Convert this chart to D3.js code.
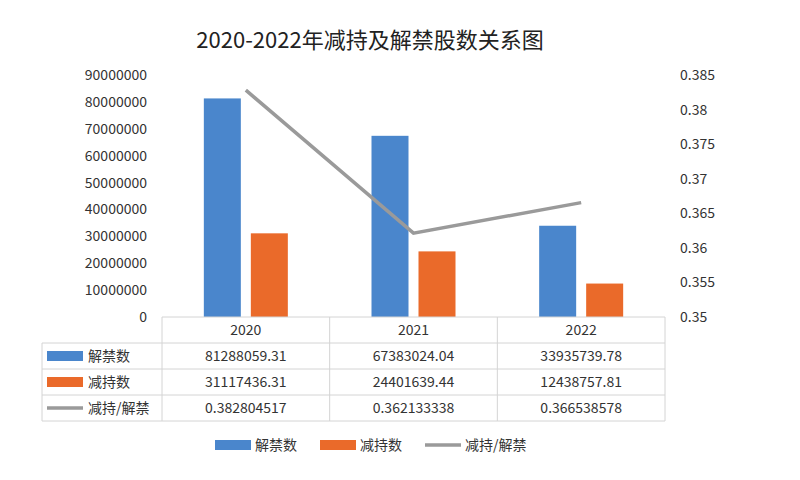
<html lang="en">
<head>
  <meta charset="utf-8">
  <title>2020-2022年减持及解禁股数关系图</title>
  <script src="https://cdn.jsdelivr.net/npm/d3@7/dist/d3.min.js"></script>
  <style>
    body { margin: 0; background: #fff; }
    text { font-family: "Noto Sans CJK SC", "Noto Sans", sans-serif; }
  </style>
</head>
<body>
<svg id="chart" width="800" height="480"></svg>
<script>
var years = ["2020", "2021", "2022"];
var unlocked = [81288059.31, 67383024.04, 33935739.78];
var reduced = [31117436.31, 24401639.44, 12438757.81];
var ratio = [0.382804517, 0.362133338, 0.366538578];
var unlockedLabels = ["81288059.31", "67383024.04", "33935739.78"];
var reducedLabels = ["31117436.31", "24401639.44", "12438757.81"];
var ratioLabels = ["0.382804517", "0.362133338", "0.366538578"];
var leftTicks = [0, 10000000, 20000000, 30000000, 40000000, 50000000, 60000000, 70000000, 80000000, 90000000];
var rightTicks = [0.35, 0.355, 0.36, 0.365, 0.37, 0.375, 0.38, 0.385];

var blue = "#4a86cc", orange = "#ea6a2a", grey = "#9a9a9a", lineCol = "#d4d4d4";
var svg = d3.select("#chart");
var plotL = 162, plotR = 665, plotT = 75, plotB = 317;

svg.append("text").attr("x", 370).attr("y", 48).attr("text-anchor", "middle")
  .attr("font-size", 22).attr("fill", "#222").text("2020-2022年减持及解禁股数关系图");

var x = d3.scaleBand().domain(years).range([plotL, plotR]);
var yL = d3.scaleLinear().domain([0, 90000000]).range([plotB, plotT]);
var yR = d3.scaleLinear().domain([0.35, 0.385]).range([plotB, plotT]);

// axes
var axL = svg.append("g").attr("transform", "translate(" + (plotL - 12) + ",0)")
  .call(d3.axisLeft(yL).tickValues(leftTicks).tickSize(0).tickFormat(d3.format("d")));
var axR = svg.append("g").attr("transform", "translate(" + (plotR + 12) + ",0)")
  .call(d3.axisRight(yR).tickValues(rightTicks).tickSize(0).tickFormat(function(d){ return +d.toFixed(3) + ""; }));
[axL, axR].forEach(function(a){
  a.select(".domain").remove();
  a.selectAll("text").attr("font-size", 14).attr("fill", "#333").attr("font-family", "'Noto Sans CJK SC', sans-serif");
});

// bars
var bw = 37;
svg.selectAll(".b1").data(years).enter().append("rect")
  .attr("x", function(d){ return x(d) + x.bandwidth()/2 - 42; })
  .attr("y", function(d, i){ return yL(unlocked[i]); })
  .attr("width", bw).attr("height", function(d, i){ return plotB - yL(unlocked[i]); })
  .attr("fill", blue);
svg.selectAll(".b2").data(years).enter().append("rect")
  .attr("x", function(d){ return x(d) + x.bandwidth()/2 + 5; })
  .attr("y", function(d, i){ return yL(reduced[i]); })
  .attr("width", bw).attr("height", function(d, i){ return plotB - yL(reduced[i]); })
  .attr("fill", orange);

// line
var line = d3.line()
  .x(function(d, i){ return x(years[i]) + x.bandwidth()/2; })
  .y(function(d){ return yR(d); });
svg.append("path").datum(ratio).attr("d", line)
  .attr("fill", "none").attr("stroke", grey).attr("stroke-width", 3.5);

// data table
var rowH = 26, tl = 42;
var rows = [
  { name: "解禁数", vals: unlockedLabels, key: "bar", color: blue },
  { name: "减持数", vals: reducedLabels, key: "bar", color: orange },
  { name: "减持/解禁", vals: ratioLabels, key: "line", color: grey }
];
var tg = svg.append("g");
var tableBottom = plotB + rowH * 4;
for (var r = 0; r <= 4; r++) {
  var yy = plotB + rowH * r;
  tg.append("line").attr("x1", r === 0 ? plotL : tl).attr("x2", plotR)
    .attr("y1", yy).attr("y2", yy).attr("stroke", lineCol);
}
tg.append("line").attr("x1", tl).attr("x2", tl).attr("y1", plotB + rowH).attr("y2", tableBottom).attr("stroke", lineCol);
[plotL].concat(years.map(function(d){ return x(d) + x.bandwidth(); })).forEach(function(xx){
  tg.append("line").attr("x1", xx).attr("x2", xx).attr("y1", plotB).attr("y2", tableBottom).attr("stroke", lineCol);
});
years.forEach(function(d){
  tg.append("text").attr("x", x(d) + x.bandwidth()/2).attr("y", plotB + 18)
    .attr("text-anchor", "middle").attr("font-size", 14).attr("fill", "#333").text(d);
});
rows.forEach(function(row, ri){
  var cy = plotB + rowH * (ri + 1) + rowH/2;
  if (row.key === "bar") {
    tg.append("rect").attr("x", 47).attr("y", cy - 5).attr("width", 36).attr("height", 10).attr("fill", row.color);
  } else {
    tg.append("line").attr("x1", 47).attr("x2", 83).attr("y1", cy).attr("y2", cy).attr("stroke", row.color).attr("stroke-width", 3.5);
  }
  tg.append("text").attr("x", 88).attr("y", cy + 5).attr("font-size", 14).attr("fill", "#333").text(row.name);
  row.vals.forEach(function(v, i){
    tg.append("text").attr("x", x(years[i]) + x.bandwidth()/2).attr("y", cy + 5)
      .attr("text-anchor", "middle").attr("font-size", 14).attr("fill", "#333").text(v);
  });
});

// legend
var lg = svg.append("g");
var lx = [215, 320, 425];
rows.forEach(function(row, i){
  if (row.key === "bar") {
    lg.append("rect").attr("x", lx[i]).attr("y", 440).attr("width", 36).attr("height", 10).attr("fill", row.color);
  } else {
    lg.append("line").attr("x1", lx[i]).attr("x2", lx[i] + 36).attr("y1", 445).attr("y2", 445).attr("stroke", row.color).attr("stroke-width", 3.5);
  }
  lg.append("text").attr("x", lx[i] + 40).attr("y", 450).attr("font-size", 14).attr("fill", "#333").text(row.name);
});
</script>
</body>
</html>
